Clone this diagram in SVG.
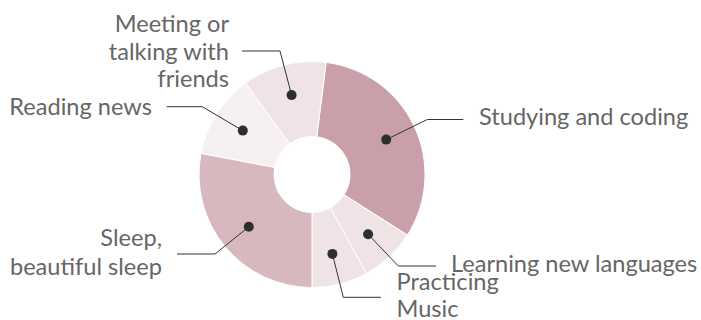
<svg xmlns="http://www.w3.org/2000/svg" width="701" height="320" viewBox="0 0 701 320">
<style>
.slice{stroke:#ffffff;stroke-width:1}
.lbl{font-family:Lato,"Open Sans",sans-serif;font-size:23.6px;fill:#666666}
.lead{fill:none;stroke:#333333;stroke-width:1}
.dot{fill:#2e2e2e}
</style>
<rect width="701" height="320" fill="#ffffff"/>
<g id="slices">
<g id="studying"><path class="slice" fill="#c9a0aa" d="M 326.16 62.39 A 113 113 0 0 1 407.41 235.05 L 344.08 194.86 A 38 38 0 0 0 316.76 136.80 Z"/></g>
<g id="learning"><path class="slice" fill="#f0e3e6" d="M 407.41 235.05 A 113 113 0 0 1 366.44 273.52 L 330.31 207.80 A 38 38 0 0 0 344.08 194.86 Z"/></g>
<g id="practicing"><path class="slice" fill="#f0e3e6" d="M 366.44 273.52 A 113 113 0 0 1 312 287.5 L 312 212.5 A 38 38 0 0 0 330.31 207.80 Z"/></g>
<g id="sleep"><path class="slice" fill="#d8b8bf" d="M 312 287.5 A 113 113 0 0 1 201.00 153.33 L 274.67 167.38 A 38 38 0 0 0 312 212.5 Z"/></g>
<g id="reading"><path class="slice" fill="#f7f0f2" d="M 201.00 153.33 A 113 113 0 0 1 245.58 83.08 L 289.66 143.76 A 38 38 0 0 0 274.67 167.38 Z"/></g>
<g id="meeting"><path class="slice" fill="#f0e3e6" d="M 245.58 83.08 A 113 113 0 0 1 326.16 62.39 L 316.76 136.80 A 38 38 0 0 0 289.66 143.76 Z"/></g>
</g>
<g id="connectors">
<polyline class="lead" points="291.6,95.1 280,51 242,51"/>
<polyline class="lead" points="242.8,130.6 202.3,106.7 166.7,106.7"/>
<polyline class="lead" points="386.2,139.6 427.3,119.5 463.3,119.5"/>
<polyline class="lead" points="248.8,226.8 215,254 177,254"/>
<polyline class="lead" points="368.1,234.3 398.3,266 436,266"/>
<polyline class="lead" points="332.4,253.9 343.3,297.3 381,297.3"/>
<circle class="dot" cx="291.6" cy="95.1" r="5"/>
<circle class="dot" cx="242.8" cy="130.6" r="5"/>
<circle class="dot" cx="386.2" cy="139.6" r="5"/>
<circle class="dot" cx="248.8" cy="226.8" r="5"/>
<circle class="dot" cx="368.1" cy="234.3" r="5"/>
<circle class="dot" cx="332.4" cy="253.9" r="5"/>
</g>
<g id="labels">
<text class="lbl" text-anchor="end"><tspan x="229" y="31.7">Meeting or</tspan><tspan x="229" y="59.5">talking with</tspan><tspan x="229" y="87.3">friends</tspan></text>
<text class="lbl" text-anchor="end" x="152" y="115">Reading news</text>
<text class="lbl" x="479" y="125">Studying and coding</text>
<text class="lbl" text-anchor="end"><tspan x="162" y="246">Sleep,</tspan><tspan x="162" y="275">beautiful sleep</tspan></text>
<text class="lbl" x="451" y="271.7">Learning new languages</text>
<text class="lbl"><tspan x="396.5" y="290">Practicing</tspan><tspan x="396.5" y="316.7">Music</tspan></text>
</g>
</svg>
